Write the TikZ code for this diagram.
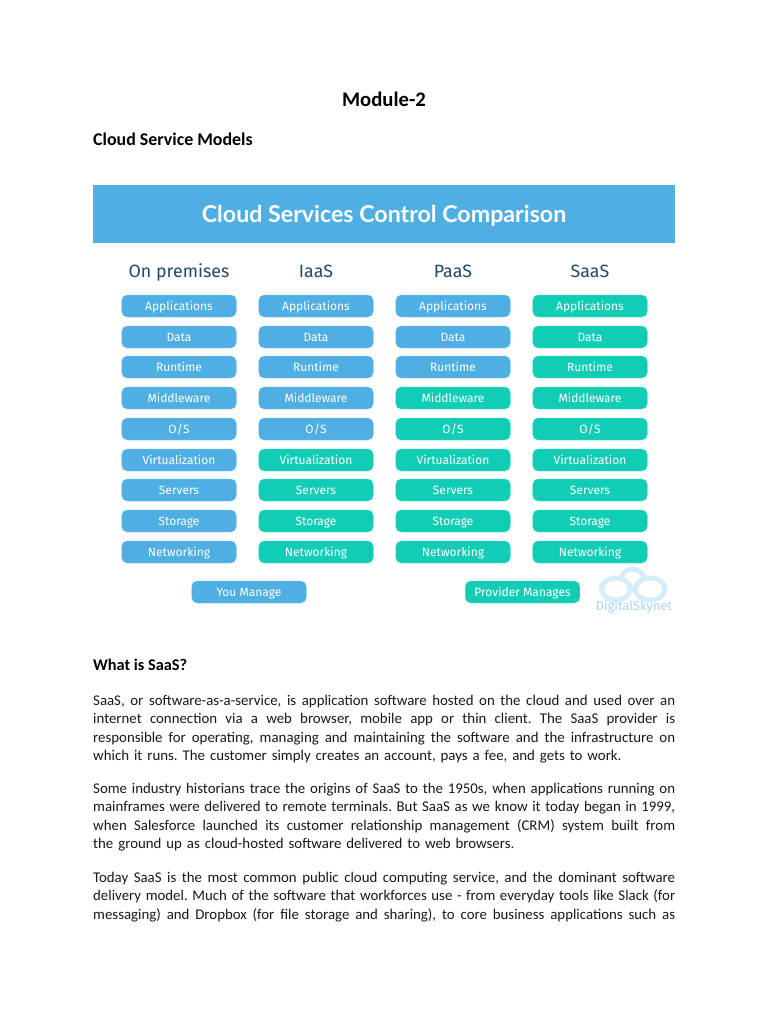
\documentclass[tikz,border=0pt]{standalone}
\usepackage{fontspec}
\setmainfont{Carlito}
\newfontfamily\diagfont{Fira Sans}
\newfontfamily\titlefont{Lato}
\definecolor{skyb}{HTML}{4FAFE3}
\definecolor{tealb}{HTML}{12CDB5}
\definecolor{headc}{HTML}{1F4A68}
\definecolor{logoc}{HTML}{D6ECF8}
\definecolor{logot}{HTML}{A8D4EE}
\newcommand{\jl}[1]{\makebox[582pt][s]{\spaceskip=0pt\xspaceskip=0pt\relax #1}}
\tikzset{
  x=1pt,y=-1pt,
  cell/.style={rounded corners=5.5pt,minimum width=114.5pt,minimum height=22pt,inner sep=0pt,text height=11pt,text depth=2.5pt,text=white,font=\diagfont\fontsize{12}{14}\selectfont},
  youm/.style={cell,fill=skyb,draw=skyb!80!white,line width=.4pt},
  provm/.style={cell,fill=tealb,draw=tealb!80!white,line width=.4pt},
  colhead/.style={text=headc,font=\diagfont\fontsize{17.8}{20}\selectfont,inner sep=0pt,text height=13pt,text depth=3.5pt},
  bodytext/.style={anchor=north west,inner sep=0pt,align=left,text width=582pt,font=\frenchspacing\fontsize{14.85}{18.45}\selectfont,text=black!90},
  heading/.style={anchor=base west,inner sep=0pt,font=\bfseries\fontsize{17.9}{20}\selectfont},
  logoring/.style={draw=logoc,line width=5pt},
}
\begin{document}
\begin{tikzpicture}
\useasboundingbox (0,0) rectangle (768,1024);
\fill[white] (0,0) rectangle (768,1024);
\node[inner sep=0pt,font=\bfseries\fontsize{20.7}{24}\selectfont] (module) at (384,99.5) {Module-2};
\node[heading] (csm) at (93,146) {Cloud Service Models};
\node[fill=skyb,minimum width=582pt,minimum height=58pt,inner sep=0pt,text height=16.5pt,text depth=0pt,text=white,font=\titlefont\bfseries\fontsize{23.2}{26}\selectfont] (banner) at (384,214) {Cloud Services Control Comparison};
\foreach \hdx/\hdt/\hdn in {179/On premises/ha,316/IaaS/hb,453/PaaS/hc,590/SaaS/hd}
  \node[colhead] (\hdn) at (\hdx,272.5) {\hdt};
\foreach \cx/\cn/\tealfrom in {179/a/10,316/b/6,453/c/4,590/d/1}{
  \foreach \rowy/\rowt [count=\rowi] in {306/Applications,337/Data,367/Runtime,398/Middleware,429/O\slash S,460/Virtualization,490/Servers,521/Storage,552/Networking}{
    \ifnum\rowi<\tealfrom\relax
      \node[youm] (\cn\rowi) at (\cx,\rowy) {\rowt};
    \else
      \node[provm] (\cn\rowi) at (\cx,\rowy) {\rowt};
    \fi
  }
}
\node[youm] (you) at (249,592) {You Manage};
\node[provm] (prov) at (522.5,592) {Provider Manages};
\draw[logoring] (616,589) ellipse (14.5 and 11);
\draw[logoring] (650,589) ellipse (15 and 11);
\draw[logoring] (621.2,576.9) arc (200:340:12);
\node[inner sep=0pt,text=logot,font=\diagfont\fontsize{12.8}{14}\selectfont] (logo) at (634,607) {DigitalSkynet};
\node[heading,font=\bfseries\fontsize{16.3}{20}\selectfont] (what) at (93,670) {What is SaaS?};
\node[bodytext] (p1) at (93,695) {%
\jl{SaaS, or software-as-a-service, is application software hosted on the cloud and used over an}\\
\jl{internet connection via a web browser, mobile app or thin client. The SaaS provider is}\\
\jl{responsible for operating, managing and maintaining the software and the infrastructure on}\\
which it runs. The customer simply creates an account, pays a fee, and gets to work.};
\node[bodytext] (p2) at (93,783) {%
\jl{Some industry historians trace the origins of SaaS to the 1950s, when applications running on}\\
\jl{mainframes were delivered to remote terminals. But SaaS as we know it today began in 1999,}\\
\jl{when Salesforce launched its customer relationship management (CRM) system built from}\\
the ground up as cloud-hosted software delivered to web browsers.};
\node[bodytext] (p3) at (93,872) {%
\jl{Today SaaS is the most common public cloud computing service, and the dominant software}\\
\jl{delivery model. Much of the software that workforces use - from everyday tools like Slack (for}\\
\jl{messaging) and Dropbox (for file storage and sharing), to core business applications such as}};
\end{tikzpicture}
\end{document}
